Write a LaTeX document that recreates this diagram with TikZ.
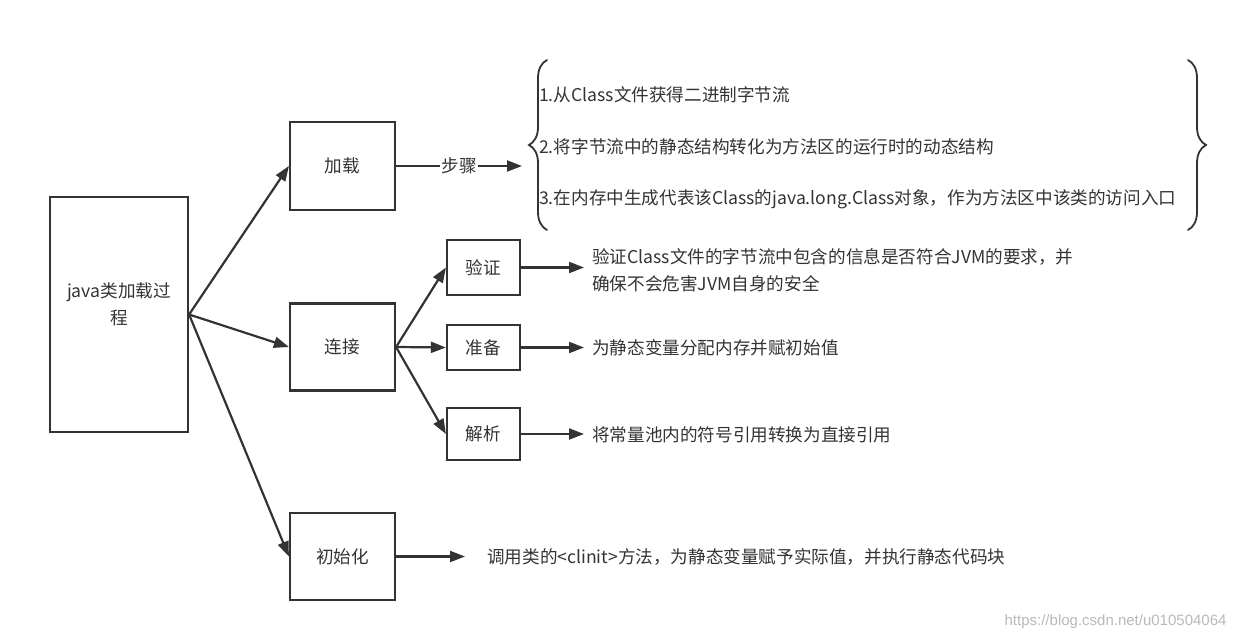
\documentclass[tikz,border=0pt]{standalone}
\usepackage{fontspec}
\setmainfont{Noto Sans CJK SC}
\newfontfamily\markfont{Liberation Sans}
\usetikzlibrary{arrows.meta,decorations.pathreplacing}
\definecolor{ink}{HTML}{333333}

\begin{document}
\begin{tikzpicture}[
		x=1pt, y=-1pt,
		every node/.style={align=center, font=\fontsize{17.6}{27}\selectfont, text=ink},
		stage/.style={rectangle, draw=ink, line width=2.2pt, minimum width=105pt, minimum height=87pt},
		sub/.style={stage, minimum width=73pt},
		note/.style={anchor=west, align=left, inner xsep=8pt},
		link/.style={draw=ink, line width=2.2pt, -{Triangle[length=15pt,width=11pt]}},
		curly/.style={draw=ink, line width=1.8pt, line cap=round, decorate, decoration={brace, amplitude=18pt}}
		]
		\useasboundingbox (0,0) rectangle (1240,642);
		
		% Left: the whole process
		\node[stage, minimum width=138pt, minimum height=235pt] (proc) at (119,314.5) {};
		\node (proclabel) at ([yshift=10pt]proc.center) {java类加载过\\程};
		
		% Middle: the three stages
		\node[stage, minimum height=88pt] (load) at (342.5,166) {加载};
		\node[stage] (link) at (342.5,347) {连接};
		\node[stage] (init) at (342.5,556.5) {初始化};
		
		\draw[link] (proc.east) -- (load.west);
		\draw[link] (proc.east) -- (link.west);
		\draw[link] (proc.east) -- (init.west);
		
		% Loading steps between braces
		\coordinate (braceb) at (547,230);
		\coordinate (bracet) at (547,60);
		\coordinate (bracec) at (1188,60);
		\coordinate (braced) at (1188,230);
		\coordinate (bracetip) at (522,166);
		\draw[curly] (braceb) -- (bracet);
		\draw[curly] (bracec) -- (braced);
		\draw[link] (load.east) -- node[fill=white, inner xsep=1pt] (steps) {步骤} (bracetip);
		
		\node[note, inner xsep=0pt] (step1) at (539,95) {1.从Class文件获得二进制字节流};
		\node[note, inner xsep=0pt] (step2) at (539,147) {2.将字节流中的静态结构转化为方法区的运行时的动态结构};
		\node[note, inner xsep=0pt] (step3) at (539,199) {3.在内存中生成代表该Class的java.long.Class对象，作为方法区中该类的访问入口};
		
		% Linking: three sub-steps
		\node[sub, minimum height=55pt] (verify) at (483.5,267.5) {验证};
		\node[sub, minimum height=45pt] (prepare) at (483.5,347.5) {准备};
		\node[sub, minimum height=52pt] (resolve) at (483.5,434) {解析};
		
		\draw[link] (link.east) -- (verify.west);
		\draw[link] (link.east) -- (prepare.west);
		\draw[link] (link.east) -- (resolve.west);
		
		\node[note] (verifytxt) at (584,270) {验证Class文件的字节流中包含的信息是否符合JVM的要求，并\\确保不会危害JVM自身的安全};
		\node[note] (preparetxt) at (584,348) {为静态变量分配内存并赋初始值};
		\node[note] (resolvetxt) at (584,435) {将常量池内的符号引用转换为直接引用};
		
		\draw[link] (verify.east) -- (verify.east -| verifytxt.west);
		\draw[link] (prepare.east) -- (prepare.east -| preparetxt.west);
		\draw[link] (resolve.east) -- (resolve.east -| resolvetxt.west);
		
		% Initialization
		\node[note, inner xsep=22pt] (inittxt) at (465,556.5) {调用类的<clinit>方法，为静态变量赋予实际值，并执行静态代码块};
		\draw[link] (init.east) -- (inittxt.west);
		
		% watermark
		\node[anchor=east, font=\markfont\fontsize{15}{17}\selectfont, text=gray!55] (mark) at (1230,622) {https://blog.csdn.net/u010504064};
		
	\end{tikzpicture}
\end{document}
